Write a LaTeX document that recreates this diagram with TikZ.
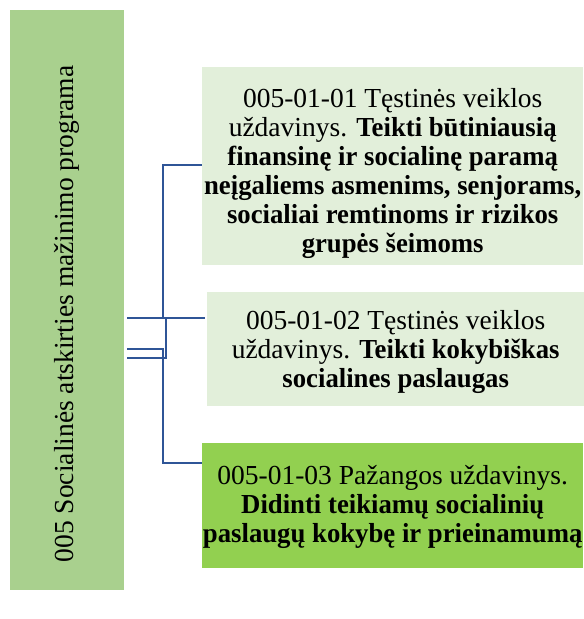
\documentclass[tikz,border=0pt]{standalone}
\usepackage{fontspec}
\setmainfont{Liberation Serif}[BoldFeatures={FakeStretch=0.972}]
\usepackage{tikz}
\definecolor{progGreen}{RGB}{169,208,142}
\definecolor{taskPale}{RGB}{226,239,218}
\definecolor{taskBright}{RGB}{146,208,80}
\definecolor{linkBlue}{RGB}{47,85,151}
\newcommand{\lowerby}[1]{\rule{0pt}{\dimexpr 19pt+#1\relax}} % pushes the text block down by half of #1

\begin{document}
\begin{tikzpicture}[
            x = 1pt, y = -1pt, % one unit per pixel, y downwards
            font = \fontsize{27.5}{29}\selectfont,
            prog/.style = {fill=progGreen, anchor=north west, inner sep=0pt,
                minimum width=114pt, minimum height=580pt},
            task/.style = {fill=taskPale, anchor=north west, inner sep=0pt,
                align=center, minimum width=381pt},
            taskhi/.style = {task, fill=taskBright},
            link/.style = {draw=linkBlue, line width=1.8pt}
        ]
    \useasboundingbox (0,0) rectangle (584,619);

    % program bar
    \node[prog] (prog) at (10,10) {};
    \node[rotate=90] (progtxt) at (67,314)
        {005 Socialinės atskirties mažinimo programa};

    % task boxes
    \node[task, minimum height=198pt] (box1) at (202,67)
        {\lowerby{14pt}005-01-01 Tęstinės veiklos\\
         uždavinys. \textbf{Teikti būtiniausią}\\
         \textbf{finansinę ir socialinę paramą}\\
         \textbf{neįgaliems asmenims, senjorams,}\\
         \textbf{socialiai remtinoms ir rizikos}\\
         \textbf{grupės šeimoms}};
    \node[task, minimum width=377pt, minimum height=114pt] (box2) at (207,292)
        {\lowerby{6pt}005-01-02 Tęstinės veiklos\\
         uždavinys. \textbf{Teikti kokybiškas}\\
         \textbf{socialines paslaugas}};
    \node[taskhi, minimum height=125pt] (box3) at (202,443)
        {\lowerby{2pt}005-01-03 Pažangos uždavinys.\\
         \textbf{Didinti teikiamų socialinių}\\
         \textbf{paslaugų kokybę ir prieinamumą}};

    % connector ends
    \coordinate (s2) at (127,318);
    \coordinate (s3) at (127,349);
    \coordinate (s1) at (127,358);
    \coordinate (e1) at (box1.west |- 0,165);
    \coordinate (e2) at (205,318);
    \coordinate (e3) at (box3.west |- 0,463);

    \draw[link] (s2) -- (e2);
    \draw[link] (s1) -| (166,318) -- (163,318) |- (e1);
    \draw[link] (s3) -| (163,463) -- (e3);

\end{tikzpicture}
\end{document}
